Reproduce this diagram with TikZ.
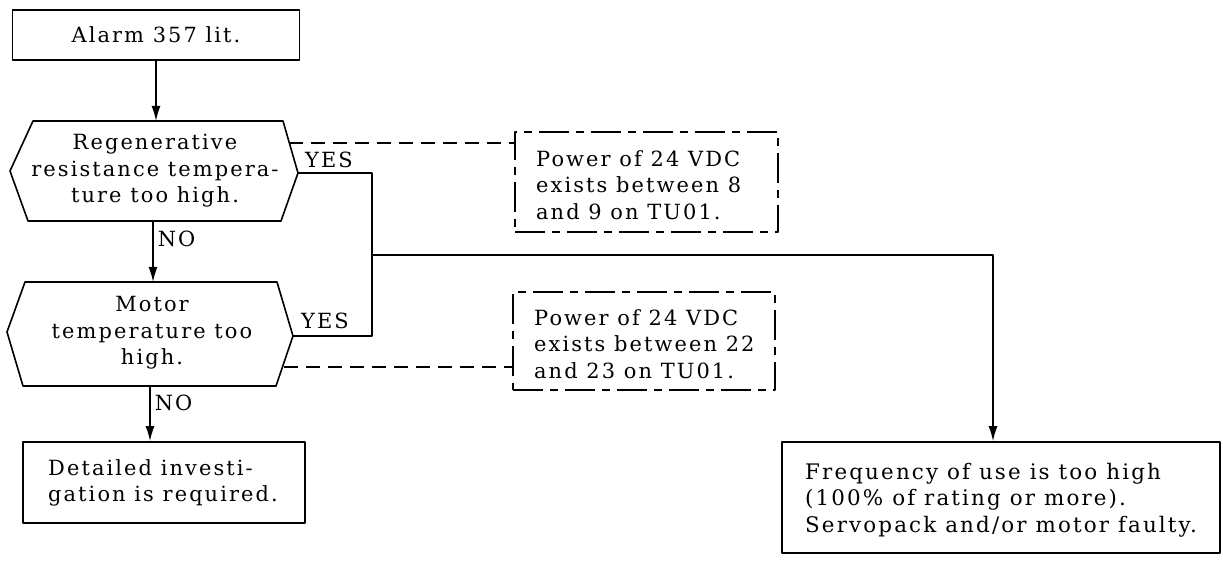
\documentclass[tikz,border=0pt]{standalone}
\usepackage{fontspec}
\setmainfont[LetterSpace=10]{DejaVu Serif}
\usetikzlibrary{arrows.meta}
\begin{document}
\begin{tikzpicture}[x=1bp,y=-1bp,
  every node/.style={font=\fontsize{21}{26.5}\selectfont, inner sep=0pt},
  ln/.style={line width=1.6bp, line join=round},
  arr/.style={ln, -{Latex[length=15bp,width=9bp]}},
  dsh/.style={ln, dash pattern=on 14bp off 8bp},
  dbox/.style={ln, dash pattern=on 30bp off 7bp on 8bp off 7bp},
  sbox/.style={ln, draw},
  lbl/.style={anchor=west}]
\useasboundingbox (0,0) rectangle (1223,563);
% boxes
\node[sbox, minimum width=287bp, minimum height=50bp] (alarm) at (156,35) {Alarm 357 lit.};
% hexagon 1
\node[align=center] (h1) at (155,171) {Regenerative\\resistance tempera-\\ture too high.};
\draw[ln] (33,121) -- (283,121) -- (298,173) -- (281,221) -- (28,221) -- (10,171) -- cycle;
\coordinate (h1n) at (156,121);
\coordinate (h1s) at (153,221);
\coordinate (h1e) at (298,173);
\coordinate (h1d) at (289,143);
% hexagon 2
\node[align=center] (h2) at (152,333) {Motor\\temperature too\\high.};
\draw[ln] (25,282) -- (277,282) -- (293,336) -- (276,386) -- (23,386) -- (7,332) -- cycle;
\coordinate (h2n) at (153,282);
\coordinate (h2s) at (150,386);
\coordinate (h2e) at (293,336);
\coordinate (h2d) at (284,367);
% detail box
\node[sbox, minimum width=282bp, minimum height=81bp] (det) at (164,482.5) {};
\node[align=left, anchor=west] (dett) at (48,483) {Detailed investi-\\gation is required.};
% dashed boxes
\node[dbox, draw, minimum width=263bp, minimum height=100bp] (p1) at (646.5,182) {};
\node[align=left, anchor=west] (p1t) at (536,185) {Power of 24 VDC\\exists between 8\\and 9 on TU01.};
\node[dbox, draw, minimum width=262bp, minimum height=98bp] (p2) at (644,341) {};
\node[align=left, anchor=west] (p2t) at (534,344) {Power of 24 VDC\\exists between 22\\and 23 on TU01.};
% final box
\node[sbox, minimum width=438bp, minimum height=111bp] (fin) at (1001,497.5) {};
\node[align=left, anchor=west, font=\fontsize{21.5}{26.5}\selectfont] (fint) at (805,500) {Frequency of use is too high\\(100\% of rating or more).\\Servopack and/or motor faulty.};
% connectors
\draw[arr] (alarm.south) -- (h1n);
\draw[arr] (h1s) -- (h2n) node[lbl, pos=0.3, xshift=4bp] (no1) {NO};
\draw[arr] (h2s) -- (h2s |- det.north) node[lbl, pos=0.3, xshift=4bp] (no2) {NO};
\coordinate (ya) at (372,173);
\coordinate (yb) at (372,336);
\coordinate (jn) at (372,255);
\coordinate (fa) at (993,255);
\draw[ln] (h1e) -- (ya) -- (yb) -- (h2e);
\draw[arr] (jn) -- (fa) -- (fa |- fin.north);
\node[lbl] (yes1) at (305,160) {YES};
\node[lbl] (yes2) at (301,321) {YES};
\draw[dsh] (h1d) -- (p1.west |- h1d);
\draw[dsh] (h2d) -- (p2.west |- h2d);
\end{tikzpicture}
\end{document}
